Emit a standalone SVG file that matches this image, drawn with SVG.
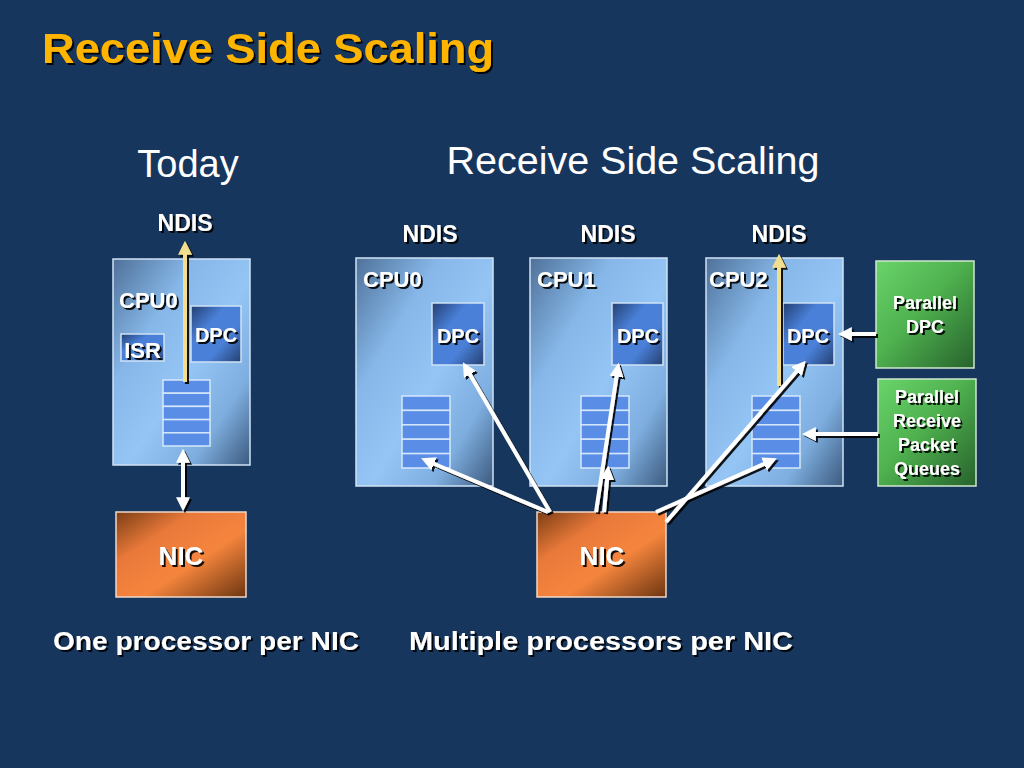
<svg xmlns="http://www.w3.org/2000/svg" width="1024" height="768" viewBox="0 0 1024 768">
<defs>
<style>
.t{font-family:"Liberation Sans",Arial,sans-serif;fill:#fff;}
.b{font-weight:bold;}
.sh{filter:url(#ds);}
.cpu{fill:url(#gCpu);stroke:#cfe2f5;stroke-width:1.5;}
.dpc{fill:url(#gDpc);stroke:#cfe2f5;stroke-width:1.5;}
.q{fill:#5a8ee6;stroke:#d6e8fa;stroke-width:1.5;}
.nic{fill:url(#gNic);stroke:#f2d8c8;stroke-width:1.5;}
.grn{fill:url(#gGrn);stroke:#cfe8cf;stroke-width:1.5;}
.w{stroke:#fff;stroke-width:4;fill:none;marker-end:url(#ah);}
.y{stroke:#f2de8e;stroke-width:4;fill:none;marker-end:url(#ahy);}
</style>
<filter id="ds" x="-20%" y="-20%" width="140%" height="140%">
<feDropShadow dx="2" dy="2" stdDeviation="0.6" flood-color="#000" flood-opacity="0.9"/>
</filter>
<linearGradient id="gCpu" x1="0" y1="0" x2="1" y2="1">
<stop offset="0" stop-color="#4f7199"/>
<stop offset="0.3" stop-color="#86b7e8"/>
<stop offset="0.55" stop-color="#94c5f5"/>
<stop offset="0.78" stop-color="#7eaedf"/>
<stop offset="1" stop-color="#3c5a7e"/>
</linearGradient>
<linearGradient id="gDpc" x1="0" y1="0" x2="1" y2="1">
<stop offset="0" stop-color="#233f72"/>
<stop offset="0.35" stop-color="#4a80d8"/>
<stop offset="0.65" stop-color="#4a80d8"/>
<stop offset="1" stop-color="#243f70"/>
</linearGradient>
<linearGradient id="gNic" x1="0" y1="0" x2="1" y2="1">
<stop offset="0" stop-color="#7c3e14"/>
<stop offset="0.3" stop-color="#e9793a"/>
<stop offset="0.6" stop-color="#f5853d"/>
<stop offset="1" stop-color="#6c3510"/>
</linearGradient>
<linearGradient id="gGrn" x1="0" y1="0" x2="1" y2="1">
<stop offset="0" stop-color="#6ad46a"/>
<stop offset="0.45" stop-color="#4fb24f"/>
<stop offset="1" stop-color="#27622c"/>
</linearGradient>
<marker id="ah" viewBox="0 0 10 10" refX="7" refY="5" markerWidth="3.5" markerHeight="3.5" orient="auto-start-reverse">
<path d="M0,0 L10,5 L0,10 z" fill="#fff"/>
</marker>
<marker id="ahy" viewBox="0 0 10 10" refX="7" refY="5" markerWidth="3.5" markerHeight="3.5" orient="auto">
<path d="M0,0 L10,5 L0,10 z" fill="#f2de8e"/>
</marker>
</defs>
<rect width="1024" height="768" fill="#17365d"/>

<g id="headings">
<text class="t b" x="42" y="63" font-size="43" textLength="452" lengthAdjust="spacingAndGlyphs" style="fill:#ffb400;filter:url(#ds)">Receive Side Scaling</text>
<text class="t" x="188" y="177" font-size="38" text-anchor="middle">Today</text>
<text class="t" x="633" y="174" font-size="38" text-anchor="middle" textLength="373" lengthAdjust="spacingAndGlyphs">Receive Side Scaling</text>
<text class="t b sh" x="53" y="650" font-size="25" textLength="306" lengthAdjust="spacingAndGlyphs">One processor per NIC</text>
<text class="t b sh" x="409" y="650" font-size="25" textLength="384" lengthAdjust="spacingAndGlyphs">Multiple processors per  NIC</text>
</g>

<g id="ndis-labels" class="t b sh" font-size="23" text-anchor="middle">
<text x="185" y="231">NDIS</text>
<text x="430" y="242">NDIS</text>
<text x="608" y="242">NDIS</text>
<text x="779" y="242">NDIS</text>
</g>

<g id="today-cpu0">
<rect class="cpu" x="113" y="259" width="137" height="206"/>
<text class="t b sh" x="119" y="308" font-size="22">CPU0</text>
<g id="today-dpc">
<rect class="dpc" x="191" y="306" width="50" height="56"/>
<text class="t b sh" x="216" y="342" font-size="20" text-anchor="middle">DPC</text>
</g>
<g id="today-isr">
<rect class="dpc" x="121" y="334" width="43" height="27"/>
<text class="t b sh" x="142.5" y="358" font-size="22" text-anchor="middle">ISR</text>
</g>
<g id="today-queue">
<rect class="q" x="163" y="380" width="47" height="13.2"/>
<rect class="q" x="163" y="393.2" width="47" height="13.2"/>
<rect class="q" x="163" y="406.4" width="47" height="13.2"/>
<rect class="q" x="163" y="419.6" width="47" height="13.2"/>
<rect class="q" x="163" y="432.8" width="47" height="13.2"/>
</g>
</g>

<g id="today-nic">
<rect class="nic" x="116" y="512" width="130" height="85"/>
<text class="t b sh" x="181" y="565" font-size="26" text-anchor="middle">NIC</text>
</g>

<g id="rss-cpu0">
<rect class="cpu" x="356" y="258" width="137" height="228"/>
<text class="t b sh" x="363" y="287" font-size="22">CPU0</text>
<rect class="dpc" x="432" y="303" width="52" height="62"/>
<text class="t b sh" x="458" y="343" font-size="20" text-anchor="middle">DPC</text>
<rect class="q" x="402" y="396" width="48" height="14.4"/>
<rect class="q" x="402" y="410.4" width="48" height="14.4"/>
<rect class="q" x="402" y="424.8" width="48" height="14.4"/>
<rect class="q" x="402" y="439.2" width="48" height="14.4"/>
<rect class="q" x="402" y="453.6" width="48" height="14.4"/>
</g>

<g id="rss-cpu1">
<rect class="cpu" x="530" y="258" width="137" height="228"/>
<text class="t b sh" x="537" y="287" font-size="22">CPU1</text>
<rect class="dpc" x="612" y="303" width="51" height="62"/>
<text class="t b sh" x="638" y="343" font-size="20" text-anchor="middle">DPC</text>
<rect class="q" x="581" y="396" width="48" height="14.4"/>
<rect class="q" x="581" y="410.4" width="48" height="14.4"/>
<rect class="q" x="581" y="424.8" width="48" height="14.4"/>
<rect class="q" x="581" y="439.2" width="48" height="14.4"/>
<rect class="q" x="581" y="453.6" width="48" height="14.4"/>
</g>

<g id="rss-cpu2">
<rect class="cpu" x="706" y="258" width="137" height="228"/>
<text class="t b sh" x="709" y="287" font-size="22">CPU2</text>
<rect class="dpc" x="783" y="303" width="51" height="62"/>
<text class="t b sh" x="808" y="343" font-size="20" text-anchor="middle">DPC</text>
<rect class="q" x="752" y="396" width="48" height="14.4"/>
<rect class="q" x="752" y="410.4" width="48" height="14.4"/>
<rect class="q" x="752" y="424.8" width="48" height="14.4"/>
<rect class="q" x="752" y="439.2" width="48" height="14.4"/>
<rect class="q" x="752" y="453.6" width="48" height="14.4"/>
</g>

<g id="rss-nic">
<rect class="nic" x="537" y="512" width="129" height="85"/>
<text class="t b sh" x="602" y="565" font-size="26" text-anchor="middle">NIC</text>
</g>

<g id="parallel-dpc">
<rect class="grn" x="876" y="261" width="98" height="107"/>
<text class="t b sh" font-size="18" text-anchor="middle"><tspan x="925" y="309">Parallel</tspan><tspan x="925" y="333">DPC</tspan></text>
</g>

<g id="parallel-queues">
<rect class="grn" x="878" y="379" width="98" height="107"/>
<text class="t b sh" font-size="18" text-anchor="middle"><tspan x="927" y="403">Parallel</tspan><tspan x="927" y="427">Receive</tspan><tspan x="927" y="451">Packet</tspan><tspan x="927" y="475">Queues</tspan></text>
</g>

<g id="connectors" class="sh">
<line class="y" x1="185" y1="382" x2="185" y2="245"/>
<line class="w" x1="183" y1="453" x2="183" y2="507" marker-start="url(#ah)"/>
<line class="y" x1="779" y1="386" x2="779" y2="258"/>
<line class="w" x1="548" y1="512" x2="425" y2="460"/>
<line class="w" x1="550" y1="512" x2="465" y2="366"/>
<line class="w" x1="596" y1="512" x2="618" y2="367"/>
<line class="w" x1="604" y1="512" x2="608" y2="470"/>
<line class="w" x1="656" y1="512" x2="773" y2="460"/>
<line class="w" x1="666" y1="522" x2="803" y2="364"/>
<line class="w" x1="876" y1="334" x2="842" y2="334"/>
<line class="w" x1="878" y1="434" x2="806" y2="434"/>
</g>
</svg>
